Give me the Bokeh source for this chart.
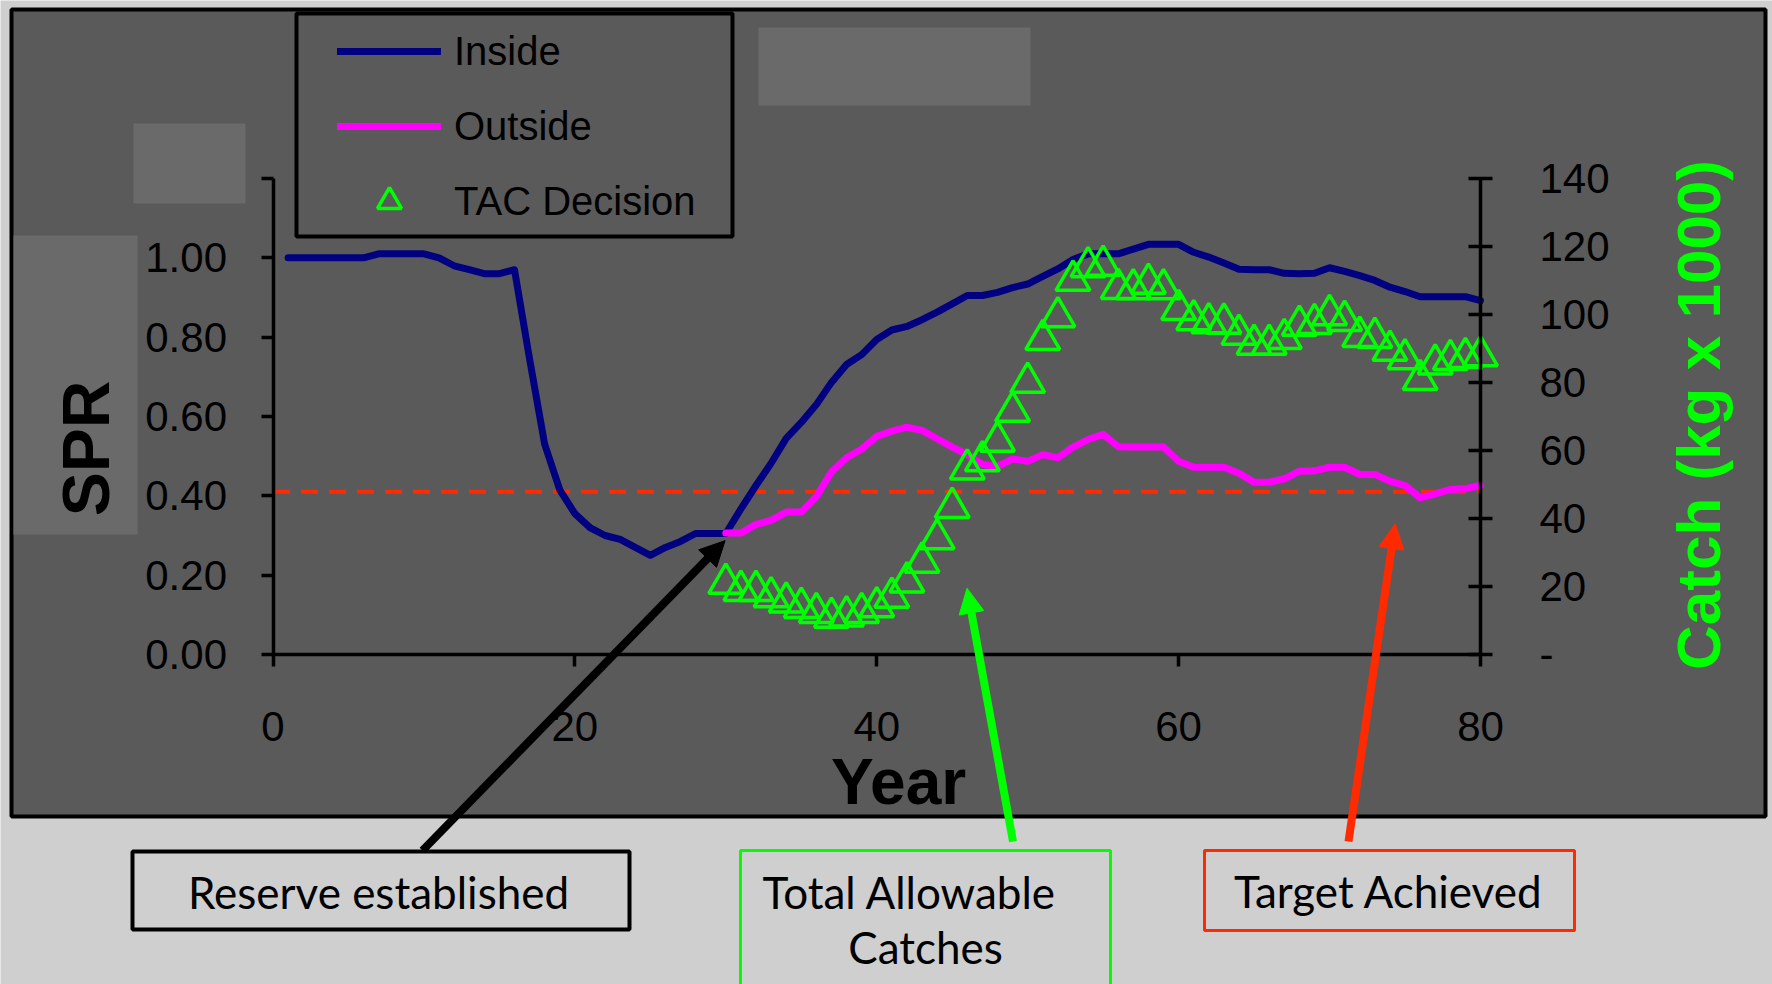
import math
from bokeh.plotting import figure
from bokeh.models import (Range1d, LinearAxis, FixedTicker, NumeralTickFormatter,
                          Legend, LegendItem, Label, Arrow, NormalHead)
from bokeh.embed import file_html
from bokeh.resources import INLINE

# ---------------- data ----------------
years_inside = list(range(1, 81))
spr_inside = [1.00, 1.00, 1.00, 1.00, 1.00, 1.00, 1.01, 1.01, 1.01, 1.01,
              1.00, 0.98, 0.97, 0.96, 0.96, 0.97, 0.745, 0.53, 0.415, 0.355,
              0.32, 0.30, 0.29, 0.27, 0.25, 0.27, 0.285, 0.305, 0.305, 0.305,
              0.367, 0.426, 0.482, 0.545, 0.585, 0.63, 0.686, 0.731, 0.756, 0.794,
              0.818, 0.827, 0.844, 0.863, 0.884, 0.905, 0.905, 0.913, 0.925, 0.934,
              0.953, 0.972, 0.996, 1.01, 1.01, 1.01, 1.022, 1.034, 1.034, 1.034,
              1.014, 1.002, 0.987, 0.971, 0.97, 0.97, 0.961, 0.96, 0.961, 0.975,
              0.966, 0.955, 0.943, 0.926, 0.915, 0.902, 0.902, 0.902, 0.902, 0.892]

years_outside = list(range(30, 81))
spr_outside = [0.306, 0.306, 0.328, 0.338, 0.359, 0.359, 0.398, 0.460, 0.496, 0.518,
               0.550, 0.563, 0.573, 0.565, 0.544, 0.523, 0.504, 0.479, 0.474, 0.493,
               0.487, 0.504, 0.496, 0.523, 0.542, 0.555, 0.524, 0.523, 0.523, 0.523,
               0.487, 0.472, 0.472, 0.472, 0.457, 0.434, 0.434, 0.443, 0.462, 0.463,
               0.472, 0.472, 0.454, 0.454, 0.437, 0.426, 0.395, 0.405, 0.416, 0.418,
               0.426]

years_tac = list(range(30, 81))
tac_catch = [20.9, 18.8, 18.8, 16.9, 15.4, 13.8, 12.3, 10.9, 11.3, 12.3,
             14.0, 16.8, 21.3, 27.1, 34.0, 43.2, 54.5, 56.9, 62.7, 71.5,
             80.0, 92.6, 99.3, 110.0, 114.0, 114.4, 107.6, 107.5, 109.1, 107.5,
             101.4, 98.4, 97.5, 97.4, 94.1, 91.2, 91.2, 92.9, 96.8, 97.3,
             99.9, 98.2, 93.5, 93.2, 89.4, 86.9, 80.8, 85.4, 86.7, 87.3,
             87.8]

target_spr = 0.41
target_years = [0, 80]

x_ticks = [0, 20, 40, 60, 80]
spr_ticks = [0.0, 0.2, 0.4, 0.6, 0.8, 1.0, 1.2]
catch_ticks = [0, 20, 40, 60, 80, 100, 120, 140]

legend_labels = ["Inside", "Outside", "TAC Decision"]
callout_reserve = "Reserve established"
callout_tac = ["Total Allowable", "Catches"]
callout_target = "Target Achieved"

# arrow tips (data coordinates: year, SPR)
tip_reserve = (29.95, 0.287)
tip_tac = (45.98, 0.167)
tip_target = (74.35, 0.330)

# ---------------- layout (canvas pixels, origin top-left) ----------------
W, H = 1772, 984
X0_PX, X1_PX = 272.5, 1480.0      # year 0 / year 80
Y0_PX, Y1_PX = 654.0, 178.0       # SPR 0 / SPR 1.2
XMAX, SPRMAX, CATCHMAX = 80.0, 1.2, 140.0

KX = (X1_PX - X0_PX) / XMAX
KY = (Y0_PX - Y1_PX) / SPRMAX


def dx(px):
    return (px - X0_PX) / KX


def dy(py):
    return (Y0_PX - py) / KY


CF = CATCHMAX / SPRMAX
BL = 0.36  # renderer's extra baseline drop, in em

PAGE = "#cfcfcf"
DARK = "#5a5a5a"
LIGHT = "#6a6a6a"
NAVY = "#000080"
MAGENTA = "#ff00ff"
GREEN = "#00ff00"
RED = "#ff2a00"
FONT = "'Liberation Sans', Arial, sans-serif"
CALLOUT_FONT = "Lato, 'Open Sans', sans-serif"

p = figure(width=W, height=H,
           x_range=Range1d(dx(0), dx(W)), y_range=Range1d(dy(H), dy(0)),
           x_axis_type=None, y_axis_type=None, title=None,
           toolbar_location=None, output_backend="svg", min_border=0,
           outline_line_color=None, background_fill_color=PAGE,
           border_fill_color=PAGE)
p.extra_y_ranges = {"catch": Range1d(dy(H) * CF, dy(0) * CF)}


def box(l, t, r, b, **kw):
    return p.quad(left=dx(l), right=dx(r), top=dy(t), bottom=dy(b), **kw)


# chart area and decorative panels
box(11, 9, 1765, 816, fill_color=DARK, line_color="black", line_width=4)
box(133, 123, 245, 203, fill_color=LIGHT, line_color=None)
box(758, 27, 1030, 105, fill_color=LIGHT, line_color=None)
box(13, 235, 137, 534, fill_color=LIGHT, line_color=None)
# legend frame
box(296, 13, 732, 236, fill_color=None, line_color="black", line_width=4)
# callout boxes
box(132, 851, 629, 929, fill_color=None, line_color="black", line_width=4)
box(740, 850, 1110, 1010, fill_color=None, line_color=GREEN, line_width=3)
box(1204, 850, 1574, 930, fill_color=None, line_color=RED, line_width=3)

# target line
p.line(target_years, [target_spr, target_spr], line_color=RED, line_width=4,
       line_dash="17 11")

# series
r_in = p.line(years_inside, spr_inside, line_color=NAVY, line_width=7,
              line_join="round", line_cap="round")
r_out = p.line(years_outside, spr_outside, line_color=MAGENTA, line_width=7,
               line_join="round", line_cap="round")
r_tac = p.scatter(years_tac, tac_catch, marker="triangle", size=34,
                  fill_color=None, line_color=GREEN, line_width=3.5,
                  y_range_name="catch")

# axes
common = dict(axis_line_width=3.5, axis_line_color="black",
              major_tick_line_width=3.5, major_tick_line_color="black",
              minor_tick_line_color=None,
              major_label_text_font=FONT, major_label_text_font_size="42px",
              major_label_text_color="black")

ax_left = LinearAxis(fixed_location=0, bounds=(0, SPRMAX),
                     ticker=FixedTicker(ticks=spr_ticks),
                     formatter=NumeralTickFormatter(format="0.00"),
                     major_label_overrides={1.2: ""},
                     major_tick_in=0, major_tick_out=12,
                     major_label_standoff=34, **common)
p.add_layout(ax_left, "left")

ax_right = LinearAxis(y_range_name="catch", fixed_location=XMAX,
                      bounds=(0, CATCHMAX),
                      ticker=FixedTicker(ticks=catch_ticks),
                      major_label_overrides={0: "-"},
                      major_tick_in=12, major_tick_out=12,
                      major_label_standoff=47, **common)
p.add_layout(ax_right, "right")

ax_bottom = LinearAxis(fixed_location=0, bounds=(0, XMAX),
                       ticker=FixedTicker(ticks=x_ticks),
                       major_tick_in=0, major_tick_out=12,
                       major_label_standoff=45, **common)
p.add_layout(ax_bottom, "below")

# axis titles
YEAR_FS, SPR_FS, CATCH_FS = 64, 66, 62
p.add_layout(Label(x=dx(898), y=dy(805 - BL * YEAR_FS), text="Year",
                   text_font=FONT, text_font_style="bold",
                   text_font_size=f"{YEAR_FS}px",
                   text_align="center", text_baseline="alphabetic",
                   text_color="black"))
p.add_layout(Label(x=dx(109 - BL * SPR_FS), y=dy(448), text="SPR",
                   text_font=FONT, text_font_style="bold",
                   text_font_size=f"{SPR_FS}px",
                   angle=math.pi / 2, text_align="center",
                   text_baseline="alphabetic", text_color="black"))
p.add_layout(Label(x=dx(1720 - BL * CATCH_FS), y=dy(414.5),
                   text="Catch (kg x 1000)",
                   text_font=FONT, text_font_style="bold",
                   text_font_size=f"{CATCH_FS}px", angle=math.pi / 2,
                   text_align="center", text_baseline="alphabetic",
                   text_color=GREEN))

# legend
legend = Legend(items=[LegendItem(label=legend_labels[0], renderers=[r_in]),
                       LegendItem(label=legend_labels[1], renderers=[r_out]),
                       LegendItem(label=legend_labels[2], renderers=[r_tac])],
                location=(337, H - 231), padding=0, margin=0, spacing=15,
                glyph_width=104, glyph_height=60, label_height=60,
                label_standoff=13, label_text_font=FONT,
                label_text_font_size="40px", label_text_color="black",
                border_line_color=None, background_fill_alpha=0)
p.add_layout(legend)

# callout texts
CO_FS = 44
callout_kw = dict(text_font=CALLOUT_FONT, text_font_size=f"{CO_FS}px",
                  text_align="center", text_baseline="alphabetic",
                  text_color="black")
p.add_layout(Label(x=dx(378), y=dy(907.5 - BL * CO_FS), text=callout_reserve,
                   **callout_kw))
p.add_layout(Label(x=dx(909), y=dy(907.5 - BL * CO_FS), text=callout_tac[0],
                   **callout_kw))
p.add_layout(Label(x=dx(925), y=dy(962 - BL * CO_FS), text=callout_tac[1],
                   **callout_kw))
p.add_layout(Label(x=dx(1388), y=dy(906 - BL * CO_FS), text=callout_target,
                   **callout_kw))

# arrows
for (tx, ty), (sx, sy), col in [(tip_reserve, (422, 850), "black"),
                                (tip_tac, (1012.5, 841), GREEN),
                                (tip_target, (1348, 841), RED)]:
    p.add_layout(Arrow(end=NormalHead(size=25, fill_color=col, line_color=col,
                                      line_width=1),
                       x_start=dx(sx), y_start=dy(sy), x_end=tx, y_end=ty,
                       line_color=col, line_width=8))

open("out.html", "w").write(file_html(p, INLINE))
